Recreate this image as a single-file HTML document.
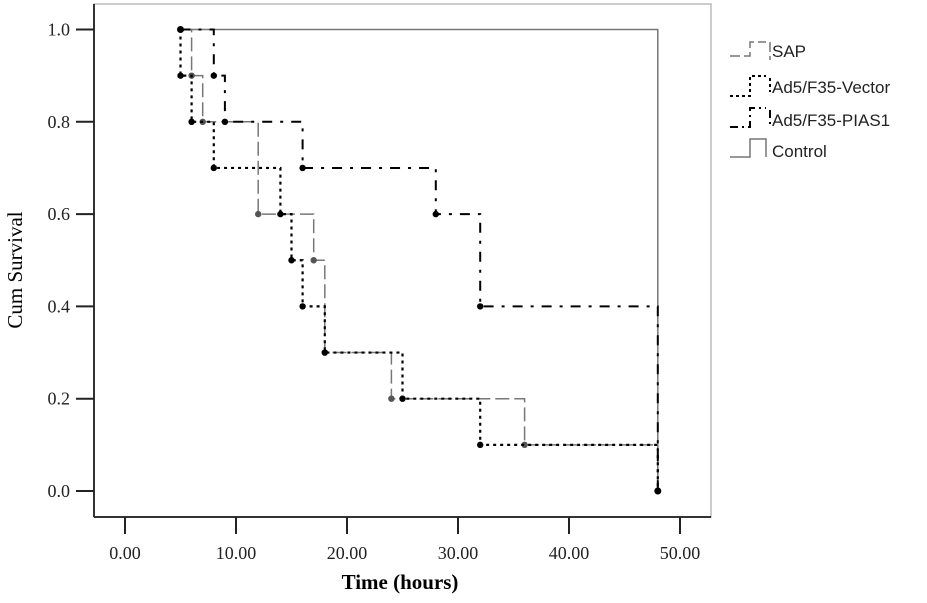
<!DOCTYPE html>
<html><head><meta charset="utf-8"><style>
html,body{margin:0;padding:0;background:#fff;}
svg{display:block;font-family:"Liberation Serif",serif;}
</style></head><body>
<svg id="chart" width="927" height="603" viewBox="0 0 927 603">
<rect x="94" y="4" width="617" height="513" fill="none" stroke="#bbb" stroke-width="1.5"/>
<line x1="94" y1="4" x2="94" y2="517" stroke="#333" stroke-width="2"/>
<line x1="94" y1="517" x2="711" y2="517" stroke="#333" stroke-width="2"/>
<g id="ticks"></g>
<g id="series"></g>
<text x="22" y="270" font-size="21" text-anchor="middle" transform="rotate(-90 22 270)">Cum Survival</text>
<text x="400" y="589" font-size="21" font-weight="bold" text-anchor="middle">Time (hours)</text>
<g id="legend" font-family="Liberation Sans, sans-serif" font-size="17" fill="#222">
<g><path d="M730,56 H750 V42 H766 M770,42 V60" fill="none" stroke="#777" stroke-width="1.5" stroke-dasharray="10,4"/><text x="772" y="57">SAP</text></g>
<g><path d="M730,96 H750 V76 H766 M770,78 V92" fill="none" stroke="#000" stroke-width="2" stroke-dasharray="3,3"/><text x="772" y="93">Ad5/F35-Vector</text></g>
<g><path d="M730,127 H750 V108 H766 M770,110 V124" fill="none" stroke="#000" stroke-width="2" stroke-dasharray="8,4,2,4"/><text x="772" y="126">Ad5/F35-PIAS1</text></g>
<g><path d="M730,157 H750 V139 H766 V157" fill="none" stroke="#777" stroke-width="1.5"/><text x="772" y="157">Control</text></g>
</g>
</svg>
<script>
const xTicks=[0,10,20,30,40,50];
const yTicks=[0,0.2,0.4,0.6,0.8,1.0];
const startTime=5;
const sapTimes=[6,7,12,17,18,24,36,48];
const sapValues=[0.9,0.8,0.6,0.5,0.3,0.2,0.1,0.0];
const vectorTimes=[5,6,8,14,15,16,18,25,32,48];
const vectorValues=[0.9,0.8,0.7,0.6,0.5,0.4,0.3,0.2,0.1,0.0];
const pias1Times=[8,9,16,28,32,48];
const pias1Values=[0.9,0.8,0.7,0.6,0.4,0.0];
const controlTimes=[48];
const controlValues=[0.0];
const NS='http://www.w3.org/2000/svg';
const xs=t=>125+t*11.1;
const ys=v=>491-v*461.5;
const tg=document.getElementById('ticks');
xTicks.forEach(t=>{
 const l=document.createElementNS(NS,'line');
 l.setAttribute('x1',xs(t));l.setAttribute('x2',xs(t));l.setAttribute('y1',517);l.setAttribute('y2',534);
 l.setAttribute('stroke','#222');l.setAttribute('stroke-width','2');
 
 
 tg.appendChild(l);
 const tx=document.createElementNS(NS,'text');
 tx.setAttribute('x',xs(t));tx.setAttribute('y',559);tx.setAttribute('text-anchor','middle');tx.setAttribute('font-size','18');tx.setAttribute('fill','#222');
 tx.textContent=t.toFixed(2);
 
 
 tg.appendChild(tx);
});
yTicks.forEach(v=>{
 const l=document.createElementNS(NS,'line');
 l.setAttribute('x1',76);l.setAttribute('x2',94);l.setAttribute('y1',ys(v));l.setAttribute('y2',ys(v));
 l.setAttribute('stroke','#222');l.setAttribute('stroke-width','2');
 
 
 tg.appendChild(l);
 const tx=document.createElementNS(NS,'text');
 tx.setAttribute('x',70);tx.setAttribute('y',ys(v)+6);tx.setAttribute('text-anchor','end');tx.setAttribute('font-size','18');tx.setAttribute('fill','#222');
 tx.textContent=v.toFixed(1);
 
 
 tg.appendChild(tx);
});
const sg=document.getElementById('series');
function drawSeries(name,times,values,color,dash,width,dotColor){
 const g=document.createElementNS(NS,'g');
 
 
 let d='M'+xs(startTime)+','+ys(1);
 times.forEach((t,i)=>{d+=' H'+xs(t)+' V'+ys(values[i]);});
 const p=document.createElementNS(NS,'path');
 p.setAttribute('d',d);p.setAttribute('fill','none');p.setAttribute('stroke',color);
 p.setAttribute('stroke-width',width);if(dash)p.setAttribute('stroke-dasharray',dash);
 
 
 g.appendChild(p);
 times.forEach((t,i)=>{
  if(name==='control-curve')return;
  const c=document.createElementNS(NS,'circle');
  c.setAttribute('cx',xs(t));c.setAttribute('cy',ys(values[i]));c.setAttribute('r',3.2);c.setAttribute('fill',dotColor);
  
  
  g.appendChild(c);
 });
 sg.appendChild(g);
}
drawSeries('control-curve',controlTimes,controlValues,'#777',null,1.5,'#000');
drawSeries('sap-curve',sapTimes,sapValues,'#777','14,5',1.5,'#555');
drawSeries('vector-curve',vectorTimes,vectorValues,'#000','3,4',2.2,'#000');
drawSeries('pias1-curve',pias1Times,pias1Values,'#000','10,8,3,8',2,'#000');
const sd=document.createElementNS(NS,'circle');
sd.setAttribute('cx',xs(startTime));sd.setAttribute('cy',ys(1));sd.setAttribute('r',3.5);sd.setAttribute('fill','#000');


sg.appendChild(sd);
const ed=document.createElementNS(NS,'circle');
ed.setAttribute('cx',xs(48));ed.setAttribute('cy',ys(0));ed.setAttribute('r',3.5);ed.setAttribute('fill','#000');


sg.appendChild(ed);
</script>
</body></html>
